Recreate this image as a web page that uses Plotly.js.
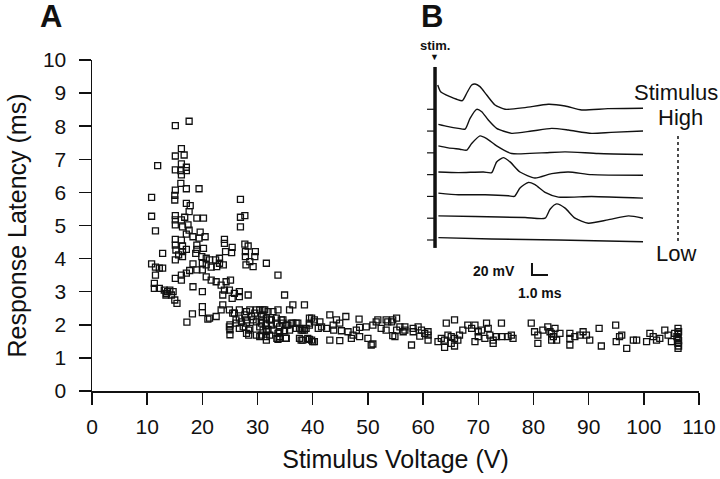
<!DOCTYPE html>
<html>
<head>
<meta charset="utf-8">
<script src="https://cdn.plot.ly/plotly-3.0.1.min.js"></script>
<style>
  body { margin: 0; background: #fff; }
  #graph { width: 720px; height: 479px; }
</style>
</head>
<body>
<div id="graph"></div>
<script>
// panel A : latence en fonction de la tension du stimulus
var voltage = [
  15.1, 17.6, 16.2, 15.1, 16.7, 11.9, 16.2, 17.1, 15.1, 16.1, 17.1, 16.2, 16.1, 15.1, 17.1, 19.4,
  10.8, 15.0, 15.0, 26.9, 17.1, 17.8, 17.6, 10.8, 15.1, 16.8, 19.0, 20.2, 26.9, 27.7,
  15.1, 16.2, 15.1, 16.4, 17.4, 17.6, 17.1, 11.5, 26.9, 19.6, 18.3, 19.4, 20.5, 15.1, 16.2, 15.1,
  16.4, 15.2, 16.4, 17.1, 15.7, 16.4, 15.1, 24.0, 24.0, 25.4, 25.3, 24.2, 27.7, 28.3, 27.8, 29.6,
  29.5, 27.8, 28.6, 27.9, 29.2, 12.8, 19.0, 19.0, 20.2, 18.8, 19.9, 20.7, 21.3, 22.4, 23.1, 23.1,
  23.8, 31.6, 10.8, 11.5, 12.8, 11.5, 12.2, 18.3, 20.0, 20.7, 21.6, 22.6, 20.0, 19.0, 17.7, 17.1,
  16.2, 15.1, 16.2, 20.7, 21.6, 22.5, 23.4, 24.3, 25.1, 24.0, 24.9, 25.8, 26.7, 26.7, 25.4, 23.7,
  11.3, 11.3, 12.2, 13.1, 14.1, 13.5, 14.4, 14.7, 15.0, 15.4, 18.3, 20.0, 28.3, 20.0, 20.0, 18.2,
  17.2, 21.3, 22.5, 23.4, 23.7, 13.7, 13.4, 21.0,
  25.0, 25.0, 25.0, 25.5, 26.7, 26.1, 28.0, 28.9, 28.0, 29.2, 27.4, 28.4, 28.4, 29.8, 30.7, 29.8,
  30.4, 31.6, 31.6, 31.3, 32.2, 34.0, 35.2, 34.6, 36.1, 35.8, 36.4, 33.7, 34.0, 35.1, 33.5, 37.0,
  37.6, 38.2, 38.8, 39.4, 39.8, 40.3, 41.3, 41.0, 38.5, 37.9, 39.8, 40.3, 33.7, 34.9,
  24.9, 25.8, 26.7, 27.7, 28.6, 29.5, 30.4, 26.1, 27.1, 28.0, 30.7, 31.6, 24.9, 26.7, 28.6, 30.4,
  28.0, 29.8,
  31.0, 31.9, 32.8, 33.7, 31.0, 31.6, 32.5, 33.4, 34.3, 30.7, 31.6, 32.5, 33.4, 34.6, 35.5, 36.4,
  37.3, 31.0, 31.9, 32.8, 34.0, 34.9, 35.8, 37.0, 37.9, 38.5, 30.7, 32.2, 34.0, 35.1, 37.6, 38.2,
  39.1,
  39.4, 40.3, 43.1, 44.3, 46.0, 48.4, 44.9, 43.7, 39.4, 41.6, 42.5, 43.8, 45.2, 46.4, 47.9, 48.5,
  49.7, 50.9, 51.5, 52.4, 53.3, 54.3, 55.2, 55.8, 56.7, 53.3, 55.2, 56.4, 47.3, 48.5, 47.0, 50.0,
  43.1, 44.9, 39.4, 40.0, 50.9, 54.5, 31.6, 33.7, 35.2,
  51.8, 53.6, 54.5, 54.9, 50.6, 58.2, 60.9,
  56.7, 58.2, 59.1, 59.7, 59.4, 60.3, 60.9, 60.9, 57.9, 62.7, 63.3, 63.9, 64.2, 65.7, 64.5, 65.1,
  65.7, 66.3, 65.1, 66.6, 67.2, 68.1, 68.8, 69.4, 70.0, 70.0, 70.6, 71.5, 71.8, 72.1, 71.2, 72.7,
  73.3, 74.2, 74.2, 75.4, 76.0, 76.3, 72.7, 69.4, 65.7, 63.9, 79.6, 80.2, 80.8, 81.7, 82.6, 83.3,
  83.3, 80.8,
  83.0, 83.6, 84.2, 84.8, 83.9, 86.6, 86.6, 86.6, 87.5, 88.4, 89.0, 89.6, 90.2, 91.9, 92.3, 94.9,
  95.0, 95.6, 96.0, 96.9, 98.1, 98.7, 100.5, 101.1, 101.7, 102.3, 102.9, 103.8, 104.4, 105.0,
  106.2, 106.2, 106.2, 106.2, 106.2, 106.0, 106.3, 106.3, 106.3, 105.6
];
var latency = [
  8.02, 8.15, 7.32, 7.10, 7.13, 6.81, 6.86, 6.76, 6.68, 6.66, 6.66, 6.53, 6.27, 6.07, 6.11, 6.11,
  5.85, 5.91, 5.77, 5.79, 5.67, 5.60, 5.42, 5.28, 5.30, 5.25, 5.22, 5.22, 5.25, 5.30,
  5.17, 5.17, 5.02, 4.96, 5.02, 4.86, 4.74, 4.84, 4.96, 4.80, 4.66, 4.62, 4.66, 4.58, 4.56, 4.41,
  4.38, 4.26, 4.21, 4.28, 4.11, 4.06, 3.96, 4.58, 4.46, 4.34, 4.18, 4.21, 4.44, 4.38, 4.21, 4.21,
  4.06, 4.06, 3.91, 3.81, 3.76, 4.16, 4.41, 4.28, 4.31, 4.16, 4.06, 4.01, 3.96, 3.96, 4.01, 3.86,
  3.81, 3.86, 3.84, 3.74, 3.71, 3.50, 3.71, 3.84, 3.86, 3.81, 3.74, 3.76, 3.66, 3.66, 3.64, 3.56,
  3.50, 3.40, 3.35, 3.45, 3.35, 3.30, 3.20, 3.30, 3.35, 3.05, 3.05, 2.95, 3.00, 2.85, 2.80, 2.90,
  3.25, 3.10, 3.10, 3.05, 3.05, 2.95, 2.90, 3.00, 2.75, 2.65, 3.15, 3.00, 2.90, 2.55, 2.37, 2.33,
  2.08, 2.20, 2.25, 2.45, 2.60, 3.00, 2.90, 2.17,
  2.00, 1.85, 1.70, 2.35, 2.20, 2.05, 2.40, 2.25, 2.05, 2.15, 1.94, 1.84, 1.69, 2.45, 2.25, 2.09,
  1.64, 1.79, 1.64, 2.45, 2.15, 1.94, 1.99, 2.15, 2.05, 2.45, 2.60, 1.74, 1.59, 1.59, 1.59, 2.05,
  1.89, 1.84, 1.89, 1.99, 2.20, 2.09, 2.09, 1.89, 2.60, 1.54, 1.54, 1.49, 3.50, 2.90,
  2.45, 2.35, 2.45, 2.30, 2.45, 2.35, 2.45, 2.15, 2.09, 2.15, 2.15, 2.05, 1.94, 1.89, 1.89, 1.94,
  1.74, 1.69,
  2.45, 2.40, 2.40, 2.45, 2.30, 2.20, 2.15, 2.20, 2.15, 2.05, 1.99, 1.99, 2.05, 2.05, 1.99, 2.05,
  2.05, 1.84, 1.86, 1.84, 1.79, 1.82, 1.84, 1.89, 1.84, 1.84, 1.69, 1.69, 1.64, 1.59, 1.59, 1.54,
  1.59,
  2.20, 2.15, 2.30, 2.15, 2.25, 2.17, 2.05, 1.99, 2.05, 1.94, 1.89, 1.84, 1.82, 1.79, 1.84, 1.92,
  1.94, 1.99, 2.09, 1.89, 2.15, 2.09, 2.20, 1.94, 1.94, 1.84, 1.84, 1.79, 1.69, 1.64, 1.59, 1.59,
  1.54, 1.52, 1.56, 1.49, 1.42, 1.67, 1.54, 1.56, 1.59,
  2.15, 2.09, 2.15, 1.64, 1.39, 1.89, 1.79,
  1.84, 1.79, 1.94, 1.84, 1.66, 1.74, 1.69, 1.54, 1.39, 1.49, 1.59, 1.54, 2.05, 2.15, 1.69, 1.64,
  1.59, 1.54, 1.44, 1.69, 1.84, 1.99, 1.89, 1.99, 1.79, 1.64, 1.84, 2.05, 1.89, 1.69, 1.59, 1.54,
  1.64, 2.05, 1.64, 1.64, 1.69, 1.59, 1.44, 1.49, 1.36, 1.32, 2.05, 1.79, 1.69, 1.84, 1.94, 1.74,
  1.54, 1.44,
  1.79, 1.64, 1.54, 1.74, 1.89, 1.74, 1.59, 1.39, 1.64, 1.69, 1.79, 1.69, 1.54, 1.89, 1.36, 1.99,
  1.49, 1.64, 1.69, 1.29, 1.54, 1.54, 1.49, 1.74, 1.64, 1.54, 1.59, 1.84, 1.69, 1.49,
  1.89, 1.74, 1.59, 1.44, 1.29, 1.64, 1.79, 1.52, 1.36, 1.74
];
var xTicks = [0, 10, 20, 30, 40, 50, 60, 70, 80, 90, 100, 110];
var yTicks = [0, 1, 2, 3, 4, 5, 6, 7, 8, 9, 10];

// panel B : enregistrements (temps en ms, potentiel en mV), du stimulus fort au faible
var trace1Time = [0.17, 0.35, 0.94, 1.35, 1.71, 1.98, 2.29, 2.5, 2.81, 3.23, 3.75, 4.38, 5.63, 7.08, 8.13, 9.17, 10.8, 13.0];
var trace1Mv   = [40.5, 29.3, 21, 16.7, 14.4, 26.7, 40.5, 42.2, 37.7, 23.8, 7.2, 0, 2.8, 8.3, 5.5, -1.1, 1.1, 1.7];
var trace2Time = [0.21, 0.83, 1.46, 1.88, 2.19, 2.6, 2.92, 3.33, 3.85, 4.79, 6.04, 7.29, 8.33, 9.79, 11.0, 13.0];
var trace2Mv   = [11.2, 7.3, 4.5, 3.3, 21.2, 36.2, 32.3, 18.3, 4.5, -3.8, 0, 4.5, 1.7, -3.8, -2.2, 0];
var trace3Time = [0.21, 0.83, 1.56, 1.98, 2.29, 2.81, 3.23, 3.85, 4.79, 6.67, 8.13, 10.2, 13.0];
var trace3Mv   = [11.7, 8.3, 6, 4.4, 15.5, 28.3, 23.8, 11.7, -1.1, 0, 1.7, -1.1, -2.8];
var trace4Time = [0.21, 1.46, 3.02, 3.54, 3.85, 4.27, 4.69, 5.31, 6.25, 7.29, 8.33, 9.79, 13.0];
var trace4Mv   = [4.4, 3.3, 4.4, 3.3, 21.2, 28.3, 21.2, 4.4, -5.5, 1.7, 4.4, 0, -1.1];
var trace5Time = [0.21, 1.46, 3.13, 4.58, 4.96, 5.31, 5.83, 6.25, 6.88, 7.71, 9.79, 13.0];
var trace5Mv   = [5.5, 2.8, 2.8, 1.1, 0, 14, 23.3, 19.5, 6.7, -1.1, 0, -2.8];
var trace6Time = [0.21, 2.5, 5.63, 6.88, 7.19, 7.6, 8.13, 8.75, 9.58, 10.8, 12.1, 13.0];
var trace6Mv   = [3.9, 2.8, 1.1, 0, 15, 23.8, 16.7, 0, -8.3, -2.8, 3.9, 0];
var trace7Time = [0.21, 3.54, 7.71, 13.0];
var trace7Mv   = [3.9, 1.7, 0, -2.8];

var traceTimes = [trace1Time, trace2Time, trace3Time, trace4Time, trace5Time, trace6Time, trace7Time];
var traceMvs = [trace1Mv, trace2Mv, trace3Mv, trace4Mv, trace5Mv, trace6Mv, trace7Mv];
var traceGap = 36.3;      // décalage vertical entre deux tracés (mV)

var police = '"Liberation Sans", Arial, Helvetica, sans-serif';
var noir = '#111';

var data = [{
  x: voltage,
  y: latency,
  type: 'scatter',
  mode: 'markers',
  marker: {
    symbol: 'square-open',
    size: 6,
    color: noir,
    line: { color: noir, width: 1.3 }
  },
  hoverinfo: 'x+y',
  showlegend: false
}];

var shapes = [];
traceTimes.forEach(function (t, i) {
  var off = -i * traceGap;
  data.push({
    x: t,
    y: traceMvs[i].map(function (v) { return v + off; }),
    xaxis: 'x2',
    yaxis: 'y2',
    type: 'scatter',
    mode: 'lines',
    line: { color: noir, width: 1.4, shape: 'spline', smoothing: 0.6 },
    hoverinfo: 'skip',
    showlegend: false
  });
  // petit repère de ligne de base à gauche
  shapes.push({
    type: 'line', xref: 'x2', yref: 'y2',
    x0: -0.5, x1: 0, y0: off, y1: off,
    line: { color: noir, width: 1.2 }
  });
});

// barre d'échelle 20 mV / 1.0 ms
data.push({
  x: [6.06, 6.06, 7.06],
  y: [-256, -276, -276],
  xaxis: 'x2',
  yaxis: 'y2',
  type: 'scatter',
  mode: 'lines',
  line: { color: noir, width: 2 },
  hoverinfo: 'skip',
  showlegend: false
});

// artefact du stimulus
shapes.push({
  type: 'line', xref: 'x2', yref: 'y2',
  x0: 0, x1: 0, y0: 70.5, y1: -231,
  line: { color: noir, width: 3.5 }
});
// pointillés High -> Low
shapes.push({
  type: 'line', xref: 'paper', yref: 'paper',
  x0: 0.9654, x1: 0.9654, y0: 0.7704, y1: 0.4502,
  line: { color: noir, width: 1.5, dash: 'dot' }
});

var annotations = [
  { text: '<b>A</b>', x: -0.0675, y: 1.13, font: { size: 31 } },
  { text: '<b>B</b>', x: 0.560, y: 1.13, font: { size: 31 } },
  { text: '<b>stim.</b>', x: 0.565, y: 1.045, font: { size: 13 } },
  { text: '▼', x: 0.565, y: 1.008, font: { size: 9 } },
  { text: 'Stimulus', x: 0.9613, y: 0.9033, font: { size: 22 } },
  { text: 'High', x: 0.9687, y: 0.8248, font: { size: 22 } },
  { text: 'Low', x: 0.962, y: 0.4169, font: { size: 22 } },
  { text: '<b>20 mV</b>', x: 0.6623, y: 0.3625, font: { size: 14 } },
  { text: '<b>1.0 ms</b>', x: 0.738, y: 0.296, font: { size: 14 } }
].map(function (a) {
  a.xref = 'paper';
  a.yref = 'paper';
  a.showarrow = false;
  a.xanchor = 'center';
  a.yanchor = 'middle';
  a.font.family = police;
  a.font.color = noir;
  return a;
});

var layout = {
  width: 720,
  height: 479,
  margin: { l: 92, r: 21, t: 60, b: 88 },
  paper_bgcolor: '#fff',
  plot_bgcolor: '#fff',
  font: { family: police, color: noir },
  showlegend: false,
  xaxis: {
    range: [0, 110],
    tickvals: xTicks,
    ticks: 'outside',
    ticklen: 12,
    tickwidth: 1.5,
    tickcolor: noir,
    ticklabelstandoff: 4,
    showline: true,
    linewidth: 1.5,
    linecolor: noir,
    showgrid: false,
    zeroline: false,
    tickfont: { size: 21 },
    title: { text: 'Stimulus Voltage (V)', font: { size: 25 }, standoff: 14 },
    automargin: false
  },
  yaxis: {
    range: [0, 10],
    tickvals: yTicks,
    ticks: 'outside',
    ticklen: 12,
    tickwidth: 1.5,
    tickcolor: noir,
    ticklabelstandoff: 8,
    showline: true,
    linewidth: 1.5,
    linecolor: noir,
    showgrid: false,
    zeroline: false,
    tickfont: { size: 21 },
    title: { text: 'Response Latency (ms)', font: { size: 25 }, standoff: 9 },
    automargin: false
  },
  xaxis2: {
    domain: [0.5404, 0.9193],
    range: [-0.9375, 13.4375],
    anchor: 'y2',
    visible: false
  },
  yaxis2: {
    domain: [0.2749, 0.9940],
    range: [-317.8, 78.8],
    anchor: 'x2',
    visible: false
  },
  shapes: shapes,
  annotations: annotations
};

Plotly.newPlot('graph', data, layout, { staticPlot: true });
</script>
</body>
</html>
